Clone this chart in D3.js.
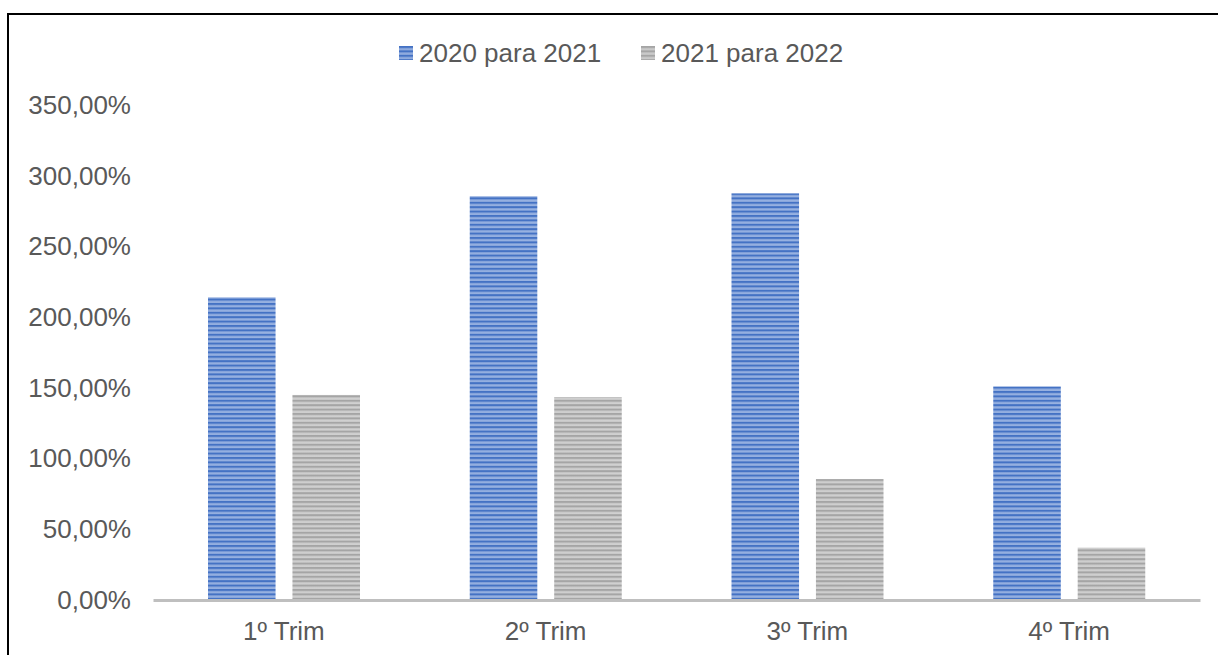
<!DOCTYPE html>
<html lang="pt">
<head>
    <meta charset="UTF-8">
    <script src="https://d3js.org/d3.v7.min.js"></script>
    <title>Variação trimestral</title>
    <style>
        body { margin: 0; background: #fff; }
        text { font-family: "Liberation Sans", Arial, sans-serif; fill: #595959; }
    </style>
</head>
<body>
    <div id="chart"></div>
    <script>
        // data
        const categories = ["1º Trim", "2º Trim", "3º Trim", "4º Trim"];
        const series = ["2020 para 2021", "2021 para 2022"];
        const values2021 = [214, 285.5, 287.5, 151];
        const values2022 = [145, 143.5, 85.5, 37];
        const yTicks = [0, 50, 100, 150, 200, 250, 300, 350];

        const W = 1218, H = 655;
        const margin = {top: 105, right: 18, bottom: 55, left: 153};
        const width = W - margin.left - margin.right;
        const height = 600 - margin.top;

        const svg = d3.select("#chart").append("svg")
            .attr("width", W)
            .attr("height", H);

        // stripe patterns
        const defs = svg.append("defs");
        const makePattern = (id, dark, light, mid) => {
            const g = defs.append("linearGradient").attr("id", id + "-grad")
                .attr("x1", 0).attr("x2", 1).attr("y1", 0).attr("y2", 0);
            g.append("stop").attr("offset", "0%").attr("stop-color", mid);
            g.append("stop").attr("offset", "50%").attr("stop-color", light);
            g.append("stop").attr("offset", "100%").attr("stop-color", mid);
            const p = defs.append("pattern").attr("id", id)
                .attr("patternUnits", "userSpaceOnUse")
                .attr("width", 2000).attr("height", 4.4);
            p.append("rect").attr("width", 2000).attr("height", 4.4).attr("fill", "url(#" + id + "-grad)");
            p.append("rect").attr("y", 0).attr("width", 2000).attr("height", 2).attr("fill", dark);
        };
        makePattern("blue", "#4472c4", "#d6e2f5", "#8fabde");
        makePattern("gray", "#a5a5a5", "#ececec", "#c9c9c9");

        // frame
        svg.append("path")
            .attr("d", `M8,${H} V14 H${W}`)
            .attr("fill", "none")
            .attr("stroke", "#000")
            .attr("stroke-width", 2);

        const g = svg.append("g").attr("transform", `translate(${margin.left},${margin.top})`);

        const x0 = d3.scaleBand().domain(categories).range([0, width]);
        const x1 = d3.scaleBand().domain(series).range([55, 207]).paddingInner(0.2);
        const y = d3.scaleLinear().domain([0, 350]).range([height, 0]);

        // y labels
        const yAxis = g.append("g")
            .call(d3.axisLeft(y).tickValues(yTicks)
                .tickFormat(d => d3.format(".2f")(d).replace(".", ",") + "%")
                .tickSize(0).tickPadding(22));
        yAxis.select(".domain").remove();
        yAxis.selectAll("text").style("font-size", "26px").attr("fill", "#595959");

        // bars
        const rows = categories.map((c, i) => ({c, v: [values2021[i], values2022[i]]}));
        const grp = g.selectAll(".cat").data(rows).join("g")
            .attr("transform", d => `translate(${x0(d.c)},0)`);
        grp.selectAll("rect").data(d => d.v.map((v, j) => ({s: series[j], v}))).join("rect")
            .attr("x", d => x1(d.s))
            .attr("width", x1.bandwidth())
            .attr("y", d => y(d.v))
            .attr("height", d => height - y(d.v))
            .attr("fill", d => d.s === series[0] ? "url(#blue)" : "url(#gray)");

        // x axis
        const xAxis = g.append("g").attr("transform", `translate(0,${height})`)
            .call(d3.axisBottom(x0).tickSize(0).tickPadding(22));
        xAxis.select(".domain").attr("stroke", "#bfbfbf").attr("stroke-width", 3);
        xAxis.selectAll("text").style("font-size", "26px").attr("fill", "#595959");

        // legend
        const legend = svg.append("g").attr("transform", "translate(399,46)");
        const lx = [0, 242];
        series.forEach((s, i) => {
            const item = legend.append("g").attr("transform", `translate(${lx[i]},0)`);
            item.append("rect").attr("width", 14).attr("height", 14).attr("y", 0)
                .attr("fill", i === 0 ? "url(#blue)" : "url(#gray)");
            item.append("text").attr("x", 20).attr("y", 16)
                .style("font-size", "26px").text(s);
        });
    </script>
</body>
</html>
